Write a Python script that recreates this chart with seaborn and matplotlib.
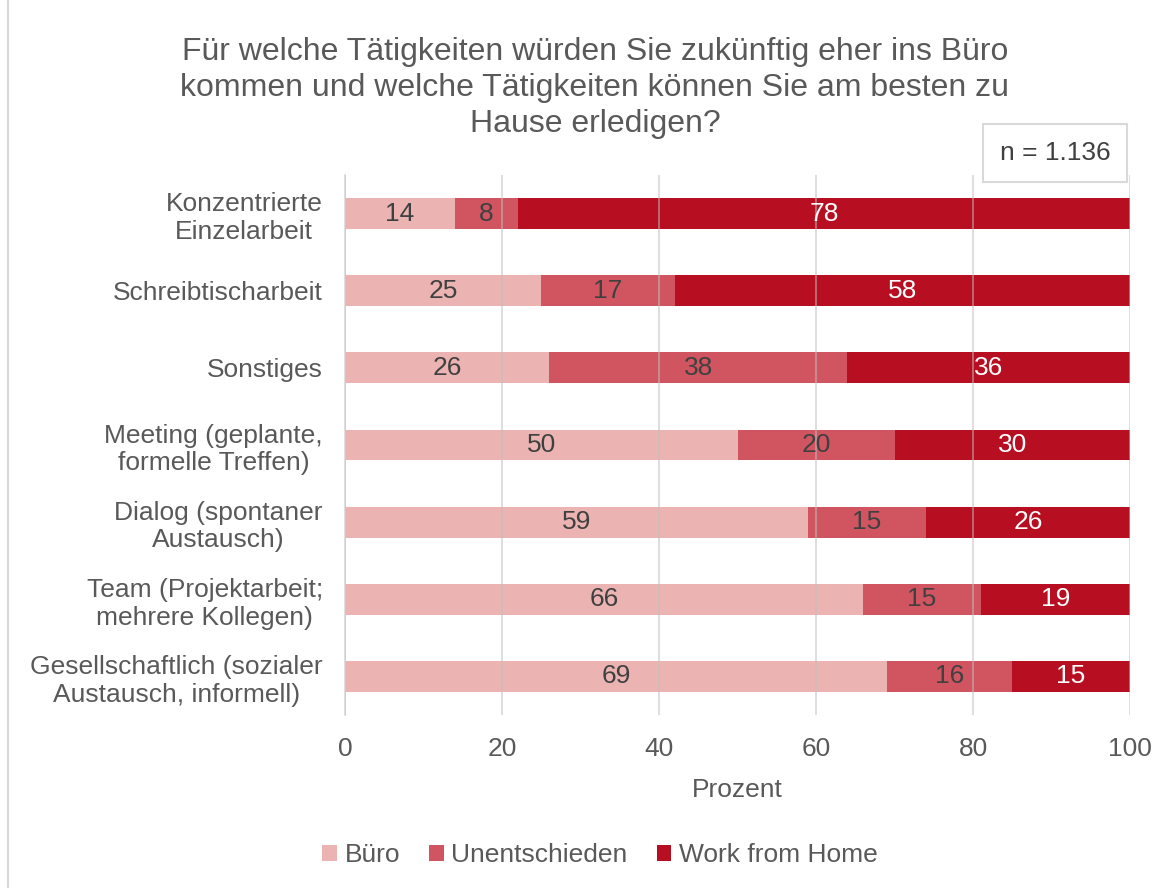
import pandas as pd
import matplotlib.pyplot as plt
import seaborn as sns
from matplotlib.patches import Rectangle, Patch

# Data
activities = [
    "Konzentrierte\nEinzelarbeit",
    "Schreibtischarbeit",
    "Sonstiges",
    "Meeting (geplante,\nformelle Treffen)",
    "Dialog (spontaner\nAustausch)",
    "Team (Projektarbeit;\nmehrere Kollegen)",
    "Gesellschaftlich (sozialer\nAustausch, informell)",
]
buero = [14, 25, 26, 50, 59, 66, 69]
unentschieden = [8, 17, 38, 20, 15, 15, 16]
home = [78, 58, 36, 30, 26, 19, 15]
series_names = ["Büro", "Unentschieden", "Work from Home"]
colors = ["#ECB3B3", "#D05560", "#B70F21"]
label_colors = ["#404040", "#404040", "white"]

df = pd.DataFrame({
    "Tätigkeit": activities,
    "Büro": buero,
    "Unentschieden": unentschieden,
    "Work from Home": home,
})
df["cum1"] = df["Büro"]
df["cum2"] = df["Büro"] + df["Unentschieden"]
df["cum3"] = df["cum2"] + df["Work from Home"]

plt.rcParams["font.family"] = ["Liberation Sans", "DejaVu Sans"]
text_color = "#595959"
fs = 19

fig = plt.figure(figsize=(11.76, 8.88), dpi=100)
ax = fig.add_axes([345 / 1176, 1 - 715 / 888, (1130 - 345) / 1176, (715 - 175) / 888])

# stacked bars: draw the cumulative totals from the largest down
for col, color in zip(["cum3", "cum2", "cum1"], colors[::-1]):
    sns.barplot(data=df, y="Tätigkeit", x=col, orient="h", color=color,
                width=0.4, saturation=1, ax=ax, zorder=2)

# segment labels
for i in range(len(activities)):
    starts = [0, df["cum1"][i], df["cum2"][i]]
    vals = [buero[i], unentschieden[i], home[i]]
    for s, v, tc in zip(starts, vals, label_colors):
        ax.text(s + v / 2, i, str(v), ha="center", va="center",
                fontsize=fs, color=tc, zorder=4)

ax.set_xlim(0, 100)
ax.set_ylim(6.5, -0.5)
ax.set_xticks([0, 20, 40, 60, 80, 100])
ax.tick_params(axis="x", length=0, labelsize=fs, labelcolor=text_color, pad=16)
ax.tick_params(axis="y", length=0, labelsize=fs, labelcolor=text_color, pad=16)
for lbl in ax.get_yticklabels():
    lbl.set_multialignment("center")
ax.set_xlabel("Prozent", fontsize=fs, color=text_color, labelpad=12)
ax.set_ylabel("")
ax.grid(axis="x", color="#BFBFBF", linewidth=1.2, alpha=0.6, zorder=3)
ax.set_axisbelow(False)
for side in ["top", "right", "bottom"]:
    ax.spines[side].set_visible(False)
ax.spines["left"].set_color("#D9D9D9")
ax.spines["left"].set_linewidth(1.2)

fig.text(595 / 1176, 1 - 88 / 888,
         "Für welche Tätigkeiten würden Sie zukünftig eher ins Büro\n"
         "kommen und welche Tätigkeiten können Sie am besten zu\n"
         "Hause erledigen?",
         ha="center", va="center", fontsize=23, color=text_color,
         linespacing=1.28)

fig.text(1055 / 1176, 1 - 153 / 888, "n = 1.136", ha="center", va="center",
         fontsize=fs, color="#404040",
         bbox=dict(boxstyle="square,pad=0.65", fc="white", ec="#D9D9D9", lw=1.5))

handles = [Patch(facecolor=c, edgecolor="none") for c in colors]
fig.legend(handles, series_names, loc="center", bbox_to_anchor=(600 / 1176, 1 - 855 / 888),
           ncol=3, frameon=False, fontsize=fs, labelcolor=text_color,
           handlelength=0.55, handleheight=0.55, handletextpad=0.3, columnspacing=1.1)

# outer chart frame
fig.patches.append(Rectangle((8 / 1176, -0.01), 1.2, 1.2, transform=fig.transFigure,
                             fill=False, ec="#D9D9D9", lw=1.5))

fig.savefig("out.png", dpi=100)
